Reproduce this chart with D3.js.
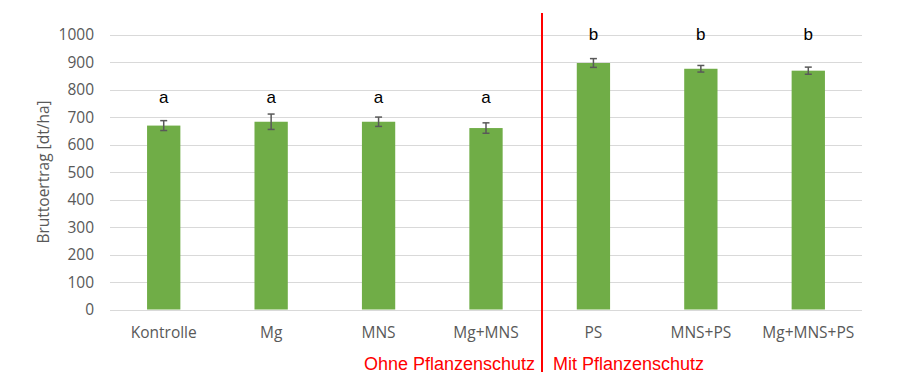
<!DOCTYPE html>
<html>
<head>
<meta charset="utf-8">
<script src="https://cdn.jsdelivr.net/npm/d3@7"></script>
<style>
  html, body { margin: 0; padding: 0; background: #fff; }
  svg { display: block; }
</style>
</head>
<body>
<svg id="chart" width="911" height="382"></svg>
<script>
const categories = ["Kontrolle", "Mg", "MNS", "Mg+MNS", "PS", "MNS+PS", "Mg+MNS+PS"];
const values = [670, 684, 684, 661, 898, 877, 870];
const errors = [18, 28, 17, 19, 16, 12, 13];
const letters = ["a", "a", "a", "a", "b", "b", "b"];
const yTicks = [0, 100, 200, 300, 400, 500, 600, 700, 800, 900, 1000];
const groups = ["Ohne Pflanzenschutz", "Mit Pflanzenschutz"];
const yTitle = "Bruttoertrag [dt/ha]";

const svg = d3.select("#chart");
const mLeft = 110, mRight = 862, mTop = 35, mBottom = 309.5;

const x = d3.scaleBand().domain(categories).range([mLeft, mRight]).paddingInner(0.69).paddingOuter(0.345);
const y = d3.scaleLinear().domain([0, 1000]).range([mBottom, mTop]);

const tickFont = "'Open Sans', sans-serif";
const tickSize = 15.5;
const grey = "#595959";

// gridlines
svg.append("g").selectAll("line").data(yTicks).join("line")
  .attr("x1", mLeft).attr("x2", mRight)
  .attr("y1", d => Math.round(y(d)) + 0.5).attr("y2", d => Math.round(y(d)) + 0.5)
  .attr("stroke", "#d9d9d9").attr("stroke-width", 1);

// y axis tick labels
const yAxis = d3.axisLeft(y).tickValues(yTicks).tickFormat(d3.format("d")).tickSize(0).tickPadding(0);
const ya = svg.append("g").attr("transform", `translate(${94},0)`).call(yAxis);
ya.select(".domain").remove();
ya.selectAll("text").attr("font-family", tickFont).attr("font-size", tickSize).attr("fill", grey);

// bars
svg.append("g").selectAll("rect").data(categories).join("rect")
  .attr("x", d => x(d)).attr("width", x.bandwidth())
  .attr("y", (d, i) => y(values[i])).attr("height", (d, i) => y(0) - y(values[i]))
  .attr("fill", "#70ad47");

// error bars
const eg = svg.append("g").attr("stroke", "#595959").attr("stroke-width", 1.5);
categories.forEach((c, i) => {
  const cx = x(c) + x.bandwidth() / 2;
  eg.append("line").attr("x1", cx).attr("x2", cx).attr("y1", y(values[i] + errors[i])).attr("y2", y(values[i] - errors[i]));
  eg.append("line").attr("x1", cx - 3.5).attr("x2", cx + 3.5).attr("y1", y(values[i] + errors[i])).attr("y2", y(values[i] + errors[i]));
  eg.append("line").attr("x1", cx - 3.5).attr("x2", cx + 3.5).attr("y1", y(values[i] - errors[i])).attr("y2", y(values[i] - errors[i]));
});

// significance letters
svg.append("g").selectAll("text").data(categories).join("text")
  .attr("x", d => x(d) + x.bandwidth() / 2)
  .attr("y", (d, i) => i < 4 ? 103 : 40)
  .attr("text-anchor", "middle")
  .attr("font-family", "'Liberation Sans', Arial, sans-serif").attr("font-size", 17)
  .attr("fill", "#000")
  .text((d, i) => letters[i]);

// x axis baseline
svg.append("line").attr("x1", mLeft).attr("x2", mRight).attr("y1", Math.round(y(0)) + 0.5).attr("y2", Math.round(y(0)) + 0.5)
  .attr("stroke", "#d9d9d9").attr("stroke-width", 1);

// x axis labels
const xAxis = d3.axisBottom(x).tickSize(0).tickPadding(0);
const xa = svg.append("g").attr("transform", `translate(0,${327})`).call(xAxis);
xa.select(".domain").remove();
xa.selectAll("text").attr("font-family", tickFont).attr("font-size", tickSize).attr("fill", grey);

// y title
svg.append("text").attr("transform", `translate(49,172) rotate(-90)`)
  .attr("text-anchor", "middle").attr("font-family", tickFont).attr("font-size", tickSize).attr("fill", grey)
  .text(yTitle);

// red separator
svg.append("line").attr("x1", 542).attr("x2", 542).attr("y1", 13).attr("y2", 372)
  .attr("stroke", "#ff0000").attr("stroke-width", 2);

// group labels
svg.append("text").attr("x", 535).attr("y", 370).attr("text-anchor", "end")
  .attr("font-family", "'Liberation Sans', Arial, sans-serif").attr("font-size", 18).attr("fill", "#ff0000")
  .text(groups[0]);
svg.append("text").attr("x", 553).attr("y", 370).attr("text-anchor", "start")
  .attr("font-family", "'Liberation Sans', Arial, sans-serif").attr("font-size", 18).attr("fill", "#ff0000")
  .text(groups[1]);
</script>
</body>
</html>
